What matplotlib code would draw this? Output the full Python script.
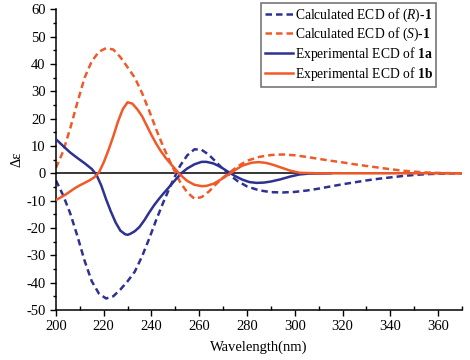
import matplotlib
matplotlib.use("Agg")
import matplotlib.pyplot as plt
from matplotlib.ticker import MultipleLocator

# wavelength (nm) and delta-epsilon values
calc_s_wl = [200, 203, 206, 209, 212, 215, 218, 221, 224, 227, 230, 233, 236, 239,
             242, 245, 248, 250, 252, 255, 258, 261, 264, 267, 270, 273, 276, 280,
             285, 290, 295, 300, 305, 310, 315, 320, 325, 330, 335, 340, 345, 350,
             355, 360, 365, 370]
calc_s = [2, 8, 16.5, 26, 35, 41, 44.5, 45.8, 45.3, 42.5, 38.8, 35, 29.5, 23,
          16, 9.6, 3.8, 0.3, -3.2, -7, -9.3, -8.7, -6.7, -4, -1.5, 0.5, 2.5, 4.6,
          6, 6.7, 6.9, 6.6, 6, 5.3, 4.6, 4, 3.3, 2.7, 2.1, 1.5, 1, 0.6,
          0.3, 0.15, 0.05, 0]

calc_r_wl = calc_s_wl
calc_r = [-2.6, -8, -14.7, -23, -32, -39.5, -44, -45.8, -45, -42.5, -39.5, -36, -30.5, -24,
          -17, -10.5, -4.5, -0.8, 2.8, 6.6, 8.8, 8.6, 6.8, 4.2, 1.5, -0.8, -2.8, -4.8,
          -6.2, -6.9, -7, -6.8, -6.3, -5.6, -4.8, -4, -3.3, -2.6, -2, -1.5, -1, -0.6,
          -0.3, -0.15, -0.05, 0]

exp_a_wl = [200, 203, 206, 209, 212, 215, 217, 219, 221, 223, 225, 227, 229, 230,
            231, 233, 235, 237, 239, 241, 243, 245, 247, 249, 251, 253, 255, 258,
            261, 263, 266, 269, 272, 275, 278, 281, 284, 287, 290, 294, 298, 302,
            306, 315]
exp_a = [12.5, 10, 7.6, 5.6, 3.7, 1.6, -0.6, -4.5, -9.5, -14, -18, -21, -22.3, -22.5,
         -22.2, -21.2, -19.6, -17.2, -14.4, -11.8, -9.5, -7.4, -5.4, -3.4, -1.4, 0.4, 1.8, 3.3,
         4.2, 4.2, 3.6, 2.3, 0.6, -1, -2.3, -3.2, -3.5, -3.4, -3, -2.2, -1.2, -0.4,
         -0.1, 0]

exp_b_wl = [200, 202, 204, 206, 208, 210, 212, 214, 216, 218, 220, 222, 224, 226,
            228, 230, 232, 234, 236, 238, 240, 242, 244, 246, 248, 250, 252, 255,
            258, 261, 263, 266, 269, 272, 275, 278, 282, 285, 288, 291, 294, 298,
            302, 310, 330, 350, 370]
exp_b = [-9.8, -8.8, -7.8, -6.6, -5.4, -4.4, -3.5, -2.6, -1.5, 0.3, 4, 8.5, 13.5, 19,
         23.5, 26, 25.5, 23.5, 21, 17.5, 14, 10.8, 8, 5.6, 3.5, 1.5, -0.5, -2.8,
         -4.2, -4.7, -4.6, -3.8, -2.3, -0.6, 1.2, 2.8, 3.9, 4.1, 3.8, 3.1, 2.2, 1,
         0.2, 0, 0, 0, 0]

labels = [r"Calculated ECD of ($\mathit{R}$)-$\mathbf{1}$",
          r"Calculated ECD of ($\mathit{S}$)-$\mathbf{1}$",
          r"Experimental ECD of $\mathbf{1a}$",
          r"Experimental ECD of $\mathbf{1b}$"]

BLUE = "#2e3192"
ORANGE = "#f05a28"

plt.rcParams["font.family"] = "Liberation Serif"
plt.rcParams["mathtext.fontset"] = "custom"
plt.rcParams["mathtext.rm"] = "Liberation Serif"
plt.rcParams["mathtext.it"] = "Liberation Serif:italic"
plt.rcParams["mathtext.bf"] = "Liberation Serif:bold"
plt.rcParams["axes.unicode_minus"] = False

fig = plt.figure(figsize=(4.7, 3.6), dpi=100)
ax = fig.add_axes([0.119, 0.139, 0.864, 0.835])

dash = (0, (2.6, 1.6))
ax.axhline(0, color="black", lw=1.1, zorder=1)
ax.plot(calc_r_wl, calc_r, color=BLUE, lw=1.8, linestyle=dash, label=labels[0], zorder=2)
ax.plot(calc_s_wl, calc_s, color=ORANGE, lw=1.8, linestyle=dash, label=labels[1], zorder=2)
ax.plot(exp_a_wl, exp_a, color=BLUE, lw=1.8, label=labels[2], zorder=3)
ax.plot(exp_b_wl, exp_b, color=ORANGE, lw=1.8, label=labels[3], zorder=4)

ax.set_xlim(200, 370)
ax.set_ylim(-50, 60)
ax.xaxis.set_major_locator(MultipleLocator(20))
ax.xaxis.set_minor_locator(MultipleLocator(10))
ax.yaxis.set_major_locator(MultipleLocator(10))
ax.yaxis.set_minor_locator(MultipleLocator(5))
ax.tick_params(axis="both", which="major", labelsize=10.5, length=4, width=1)
ax.tick_params(axis="x", which="minor", direction="in", length=3, width=1)
ax.tick_params(axis="y", which="minor", direction="out", length=2.5, width=1)
for side in ("top", "right"):
    ax.spines[side].set_visible(False)
for side in ("left", "bottom"):
    ax.spines[side].set_linewidth(1.1)

ax.set_xlabel("Wavelength(nm)", fontsize=10.5, labelpad=5)
ax.set_ylabel("Δε", fontsize=10.5, labelpad=2)

leg = ax.legend(loc="upper right", bbox_to_anchor=(436 / 470, 357 / 360),
                bbox_transform=fig.transFigure, fontsize=9.8,
                frameon=True, fancybox=False, edgecolor="#555555",
                handlelength=2.1, handletextpad=0.1, borderpad=0.25,
                labelspacing=0.15, borderaxespad=0.0)
leg.get_frame().set_linewidth(1.2)

fig.savefig("out.png", dpi=100)
